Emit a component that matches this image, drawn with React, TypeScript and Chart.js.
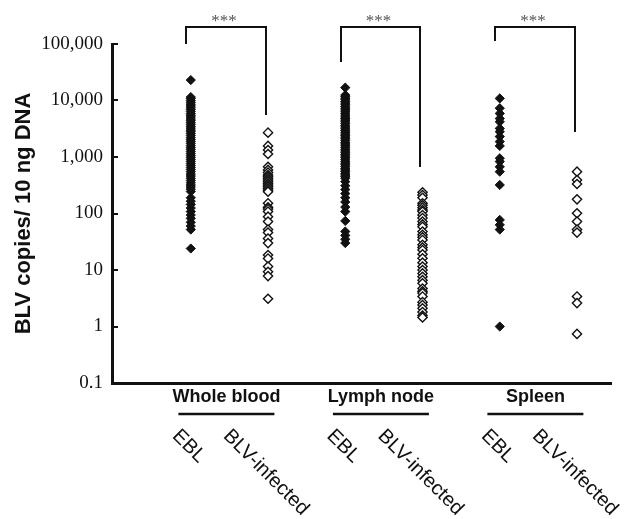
import React, { useEffect, useRef } from 'react';
import Chart from 'chart.js/auto';

const categories = ['EBL', 'BLV-infected', 'EBL', 'BLV-infected', 'EBL', 'BLV-infected'];
const groups = ['Whole blood', 'Lymph node', 'Spleen'];
const yTicks = [0.1, 1, 10, 100, 1000, 10000, 100000];
const yTickLabels = ['0.1', '1', '10', '100', '1,000', '10,000', '100,000'];
const yTitle = 'BLV copies/ 10 ng DNA';

const wholeBloodEBL = [23000, 11500, 10800, 10000, 9300, 8600, 8000, 7400, 6900, 6400, 5900, 5500, 5100, 4700, 4400, 4100, 3800, 3500, 3250, 3000, 2800, 2600, 2400, 2200, 2050, 1900, 1750, 1600, 1480, 1370, 1260, 1160, 1070, 990, 910, 840, 770, 710, 650, 600, 550, 500, 460, 420, 385, 350, 320, 295, 270, 245, 190, 165, 145, 125, 108, 94, 82, 70, 60, 52, 24];
const wholeBloodBLV = [2700, 1570, 1330, 1130, 670, 590, 530, 480, 450, 420, 390, 366, 340, 319, 300, 279, 260, 243, 152, 129, 120, 108, 88, 72, 52, 46, 36, 30, 18.4, 16, 11.5, 9.3, 7.8, 3.1];
const lymphNodeEBL = [16900, 12500, 11800, 11000, 10300, 9600, 9000, 8400, 7800, 7300, 6800, 6300, 5900, 5500, 5100, 4800, 4500, 4200, 3900, 3600, 3400, 3150, 2950, 2750, 2550, 2400, 2250, 2100, 1950, 1800, 1700, 1580, 1470, 1370, 1280, 1190, 1110, 1040, 970, 900, 840, 780, 730, 680, 630, 590, 550, 510, 480, 450, 420, 366, 310, 265, 225, 190, 160, 130, 108, 74, 48, 41, 35, 30];
const lymphNodeBLV = [237, 212, 190, 152, 140, 127, 115, 108, 94, 83, 72, 64, 58, 48, 42, 38, 34, 28, 25, 22.6, 19, 16.1, 13.5, 11.5, 10, 8.7, 7.6, 6.6, 5.8, 4.7, 4.2, 3.9, 3.4, 2.7, 2.4, 2.1, 1.8, 1.56, 1.45];
const spleenEBL = [10900, 7300, 5900, 4800, 4200, 3200, 2800, 2300, 1870, 1570, 950, 830, 670, 550, 320, 77, 63, 52, 1.0];
const spleenBLV = [550, 390, 333, 178, 101, 72, 52, 46, 3.4, 2.6, 0.74];

const seriesValues = [wholeBloodEBL, wholeBloodBLV, lymphNodeEBL, lymphNodeBLV, spleenEBL, spleenBLV];

// significance brackets: [from category, to category], top value, leg end values
const bracketPairs = [[1, 2], [3, 4], [5, 6]];
const bracketTop = 200000;
const bracketLeftEnd = [100000, 48000, 113000];
const bracketRightEnd = [5530, 665, 2770];
const significance = ['***', '***', '***'];

const INK = '#111';

const annotPlugin = {
  id: 'annot',
  afterDraw(chart: any) {
    const { ctx, chartArea, scales } = chart;
    const x = scales.x;
    const y = scales.y;
    ctx.save();
    // inward tick marks
    ctx.strokeStyle = INK;
    ctx.lineWidth = 2;
    yTicks.forEach((v) => {
      const py = Math.round(y.getPixelForValue(v));
      ctx.beginPath();
      ctx.moveTo(chartArea.left, py);
      ctx.lineTo(chartArea.left + 6, py);
      ctx.stroke();
    });
    // brackets
    bracketPairs.forEach((p, i) => {
      const xl = Math.round(x.getPixelForValue(p[0] - 0.06));
      const xr = Math.round(x.getPixelForValue(p[1] - 0.03));
      const yt = Math.round(y.getPixelForValue(bracketTop));
      ctx.strokeStyle = INK;
      ctx.lineWidth = 2;
      ctx.beginPath();
      ctx.moveTo(xl, y.getPixelForValue(bracketLeftEnd[i]));
      ctx.lineTo(xl, yt);
      ctx.lineTo(xr, yt);
      ctx.lineTo(xr, y.getPixelForValue(bracketRightEnd[i]));
      ctx.stroke();
      ctx.fillStyle = '#555';
      ctx.font = '17px "Liberation Serif"';
      ctx.textAlign = 'center';
      ctx.textBaseline = 'alphabetic';
      ctx.fillText(significance[i], (xl + xr) / 2 - 2, yt - 1);
    });
    // group labels with underline
    const bottom = chartArea.bottom;
    groups.forEach((g, i) => {
      const gc = (x.getPixelForValue(i * 2 + 1) + x.getPixelForValue(i * 2 + 2)) / 2 - 3;
      ctx.fillStyle = INK;
      ctx.font = 'bold 18px "Liberation Sans"';
      ctx.textAlign = 'center';
      ctx.textBaseline = 'middle';
      ctx.fillText(g, gc, bottom + 14);
      ctx.strokeStyle = INK;
      ctx.lineWidth = 2.5;
      ctx.beginPath();
      ctx.moveTo(gc - 48, bottom + 31);
      ctx.lineTo(gc + 48, bottom + 31);
      ctx.stroke();
    });
    // rotated category labels
    ctx.font = '20px "Liberation Sans"';
    categories.forEach((c, i) => {
      const cx = x.getPixelForValue(i + 1) - 2;
      const w = ctx.measureText(c).width;
      const h = 14;
      const cy = bottom + 45 + 0.7071 * (w + h) / 2;
      ctx.save();
      ctx.translate(cx, cy);
      ctx.rotate(Math.PI / 4);
      ctx.fillStyle = INK;
      ctx.textAlign = 'center';
      ctx.textBaseline = 'middle';
      ctx.fillText(c, 0, 0);
      ctx.restore();
    });
    ctx.restore();
  },
};

export default function App() {
  const canvasRef = useRef<HTMLCanvasElement | null>(null);

  useEffect(() => {
    const canvas = canvasRef.current;
    if (!canvas) return;
    const datasets = seriesValues.map((vals, i) => {
      const filled = i % 2 === 0;
      return {
        label: categories[i],
        data: vals.map((v) => ({ x: i + 1, y: v })),
        pointStyle: 'rectRot',
        pointRadius: 4.6,
        pointHoverRadius: 4.6,
        backgroundColor: filled ? INK : '#ffffff',
        borderColor: INK,
        borderWidth: filled ? 1 : 1.4,
        clip: false,
      };
    });
    const chart = new Chart(canvas, {
      type: 'scatter',
      data: { datasets } as any,
      options: {
        responsive: false,
        animation: false,
        events: [],
        layout: { padding: { top: 44, right: 19, bottom: 0, left: 0 } },
        plugins: { legend: { display: false }, tooltip: { enabled: false } },
        scales: {
          x: {
            type: 'linear',
            min: -0.02,
            max: 6.44,
            ticks: { display: false },
            grid: { display: false, drawTicks: false },
            border: { display: true, width: 3, color: INK },
            afterFit: (s: any) => { s.height = 136; },
          },
          y: {
            type: 'logarithmic',
            min: 0.1,
            max: 100000,
            afterBuildTicks: (s: any) => { s.ticks = yTicks.map((v) => ({ value: v })); },
            ticks: {
              autoSkip: false,
              padding: 9,
              color: INK,
              font: { family: '"Liberation Serif"', size: 19 },
              callback: (v: any) => {
                const idx = yTicks.indexOf(Number(v));
                return idx >= 0 ? yTickLabels[idx] : '';
              },
            },
            grid: { display: false, drawTicks: false },
            border: { display: true, width: 3, color: INK },
            title: {
              display: true,
              text: yTitle,
              color: INK,
              font: { family: '"Liberation Sans"', size: 22, weight: 'bold' },
              padding: { top: 11, bottom: 0 },
            },
            afterFit: (s: any) => { s.width = 112; },
          },
        },
      } as any,
      plugins: [annotPlugin],
    });
    return () => chart.destroy();
  }, []);

  return (
    <div style={{ position: 'absolute', left: 0, top: 0, width: 630, height: 519, background: '#fff' }}>
      <canvas ref={canvasRef} width={630} height={519} style={{ display: 'block' }} />
    </div>
  );
}
